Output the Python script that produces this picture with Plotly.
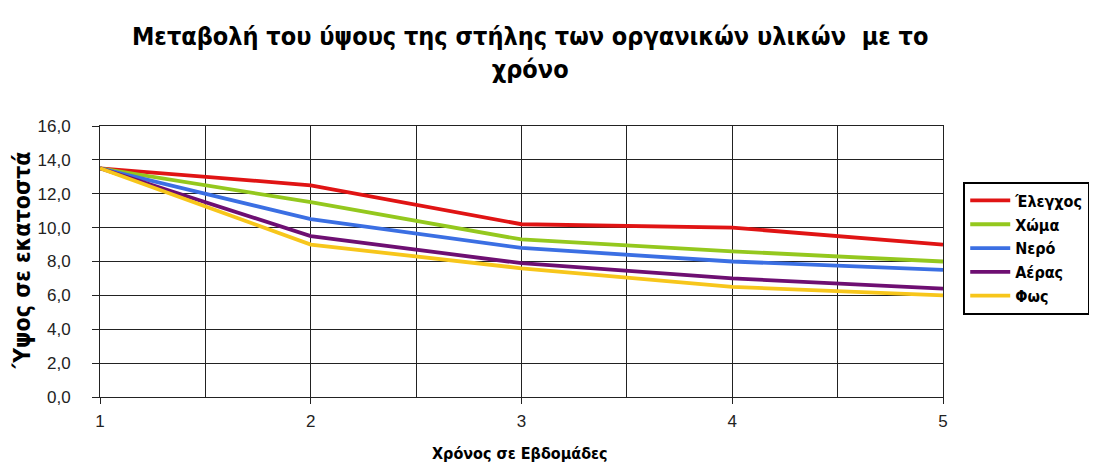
import plotly.graph_objects as go

weeks = [1, 2, 3, 4, 5]
series_names = ["Έλεγχος", "Χώμα", "Νερό", "Αέρας", "Φως"]
elegxos = [13.5, 12.5, 10.2, 10.0, 9.0]
xoma = [13.5, 11.5, 9.3, 8.6, 8.0]
nero = [13.5, 10.5, 8.8, 8.0, 7.5]
aeras = [13.5, 9.5, 7.9, 7.0, 6.4]
fos = [13.5, 9.0, 7.6, 6.5, 6.0]
colors = ["#E01414", "#94C81E", "#3B6FE3", "#6E0F72", "#F7C61B"]

fig = go.Figure()
for name, vals, c in zip(series_names, [elegxos, xoma, nero, aeras, fos], colors):
    fig.add_trace(go.Scatter(x=weeks, y=vals, mode="lines", name="<b>" + name + "</b>",
                             line=dict(color=c, width=3.8)))

TFONT = "DejaVu Sans Condensed, DejaVu Sans, sans-serif"
FONT = "Liberation Sans, Arial, sans-serif"
fig.update_layout(
    width=1097, height=475,
    paper_bgcolor="white", plot_bgcolor="white",
    separators=",.",
    margin=dict(l=92, r=162, t=118, b=86),
    title=dict(text="<b>Μεταβολή του ύψους της στήλης των οργανικών υλικών  με το<br>χρόνο</b>",
               x=0.476, xanchor="center", y=0.922, yanchor="top",
               font=dict(family=TFONT, size=25, color="black")),
    font=dict(family=FONT, size=16, color="black"),
    showlegend=True,
    legend=dict(x=1.024, xanchor="left", y=0.795, yanchor="top",
                bordercolor="black", borderwidth=2, bgcolor="white",
                font=dict(family=TFONT, size=16, color="black"),
                tracegroupgap=0, itemwidth=40),
    annotations=[
        dict(text="<b>Χρόνος σε Εβδομάδες</b>", xref="paper", yref="paper",
             x=0.498, y=-0.207, xanchor="center", yanchor="middle", showarrow=False,
             font=dict(family=TFONT, size=16, color="black")),
        dict(text="<b>Ύψος σε εκατοστά</b>", xref="paper", yref="paper",
             x=-0.0925, y=0.505, xanchor="center", yanchor="middle", showarrow=False,
             textangle=-90, font=dict(family=TFONT, size=23, color="black")),
    ],
)
fig.update_xaxes(range=[1, 5], dtick=1, tick0=1, showgrid=True, gridcolor="#222", gridwidth=1,
                 minor=dict(dtick=0.5, tick0=1, showgrid=True, gridcolor="#222", gridwidth=1),
                 showline=True, linecolor="#222", linewidth=1, mirror=True,
                 ticks="outside", ticklen=6, tickcolor="#222", zeroline=False,
                 ticklabelstandoff=3,
                 tickfont=dict(family=FONT, size=17, color="#222"))
fig.update_yaxes(range=[0, 16], dtick=2, tickformat=".1f", showgrid=True, gridcolor="#222", gridwidth=1,
                 showline=True, linecolor="#222", linewidth=1, mirror=True,
                 ticks="outside", ticklen=7, tickcolor="#222", zeroline=False,
                 ticklabelstandoff=18,
                 tickfont=dict(family=FONT, size=17, color="#222"))

fig.write_html("out.html")
